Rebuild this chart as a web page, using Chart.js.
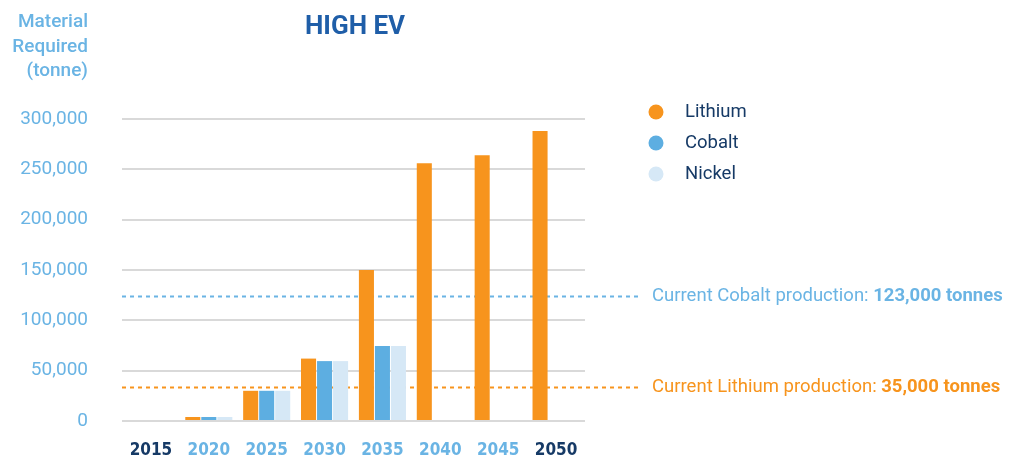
<!DOCTYPE html>
<html>
<head>
<meta charset="utf-8">
<script src="https://cdn.jsdelivr.net/npm/chart.js@4/dist/chart.umd.min.js"></script>
<style>
  html, body { margin: 0; padding: 0; background: #fff; overflow: hidden; }
  #wrap { position: relative; width: 1011px; height: 457px; }
</style>
</head>
<body>
<div id="wrap"><canvas id="myChart"></canvas></div>
<script>
// data
var years = ["2015", "2020", "2025", "2030", "2035", "2040", "2045", "2050"];
var lithium = [0, 4000, 30000, 62000, 150000, 256000, 264000, 288000];
var cobalt = [0, 4000, 30000, 59500, 74500, null, null, null];
var nickel = [0, 4000, 30000, 59500, 74500, null, null, null];
var yTicks = [0, 50000, 100000, 150000, 200000, 250000, 300000];

var titleText = "HIGH EV";
var axisTitle = ["Material", "Required", "(tonne)"];
var refLines = [
  { value: 124000, label: "Current Cobalt production: ", bold: "123,000 tonnes", color: "#6AB4E4" },
  { value: 33500, label: "Current Lithium production: ", bold: "35,000 tonnes", color: "#F7941D" }
];

var ORANGE = "#F7941D", BLUE = "#5DAEE1", LIGHT = "#D6E8F6";
var NAVY = "#163A66", SKY = "#6AB4E4";

var extras = {
  id: "extras",
  beforeDatasetsDraw: function(chart) {
    var ctx = chart.ctx, y = chart.scales.y, area = chart.chartArea;
    ctx.save();
    ctx.lineWidth = 2;
    ctx.setLineDash([4, 4]);
    refLines.forEach(function(r) {
      var py = Math.round(y.getPixelForValue(r.value)) + 0.5;
      ctx.strokeStyle = r.color;
      ctx.beginPath();
      ctx.moveTo(area.left, py);
      ctx.lineTo(640, py);
      ctx.stroke();
    });
    ctx.restore();
  },
  afterDraw: function(chart) {
    var ctx = chart.ctx, y = chart.scales.y;
    ctx.save();
    // title
    ctx.fillStyle = "#1F5EA8";
    ctx.font = "bold 26px Roboto";
    ctx.textAlign = "center";
    ctx.textBaseline = "alphabetic";
    ctx.fillText(titleText, 355, 34);
    // axis title
    ctx.fillStyle = SKY;
    ctx.font = "500 19px Roboto";
    ctx.textAlign = "right";
    axisTitle.forEach(function(t, i) {
      ctx.fillText(t, 88, 27 + i * 24.5);
    });
    // reference labels
    ctx.textAlign = "left";
    ctx.textBaseline = "middle";
    refLines.forEach(function(r) {
      var py = y.getPixelForValue(r.value);
      ctx.fillStyle = r.color;
      ctx.font = "18.5px Roboto";
      ctx.fillText(r.label, 652, py);
      var w = ctx.measureText(r.label).width;
      ctx.font = "bold 18.5px Roboto";
      ctx.fillText(r.bold, 652 + w, py);
    });
    // legend
    chart.data.datasets.forEach(function(ds, i) {
      var cy = 112 + i * 31;
      ctx.fillStyle = ds.backgroundColor;
      ctx.beginPath();
      ctx.arc(656, cy, 7.5, 0, Math.PI * 2);
      ctx.fill();
      ctx.fillStyle = NAVY;
      ctx.font = "18.5px Roboto";
      ctx.fillText(ds.label, 685, cy);
    });
    ctx.restore();
  }
};

var ctx = document.getElementById("myChart").getContext("2d");
var chart = new Chart(ctx, {
  type: "bar",
  data: {
    labels: years,
    datasets: [
      { label: "Lithium", data: lithium, backgroundColor: ORANGE },
      { label: "Cobalt", data: cobalt, backgroundColor: BLUE },
      { label: "Nickel", data: nickel, backgroundColor: LIGHT }
    ]
  },
  plugins: [extras],
  options: {
    responsive: true,
    maintainAspectRatio: false,
    animation: false,
    layout: { padding: { top: 119, right: 426, left: 0, bottom: 0 } },
    datasets: { bar: { categoryPercentage: 0.83, barPercentage: 0.94 } },
    plugins: {
      legend: { display: false },
      title: { display: false },
      tooltip: { enabled: false }
    },
    scales: {
      x: {
        grid: { display: false, drawTicks: false },
        border: { display: false },
        ticks: {
          padding: 19,
          font: { family: "'DejaVu Sans Condensed', 'DejaVu Sans'", weight: "bold", size: 17 },
          color: function(c) {
            return (c.index === 0 || c.index === years.length - 1) ? NAVY : SKY;
          }
        },
        afterFit: function(s) { s.height = 36; }
      },
      y: {
        min: 0,
        max: 300000,
        afterBuildTicks: function(s) {
          s.ticks = yTicks.map(function(v) { return { value: v }; });
        },
        grid: { color: "#D9D9D9", lineWidth: 2, drawTicks: false },
        border: { display: false },
        ticks: {
          padding: 34,
          color: SKY,
          font: { family: "Roboto", size: 19 },
          callback: function(v) { return v.toLocaleString("en-US"); }
        },
        afterFit: function(s) {
          s.width = 122;
          // tick padding is horizontal here, keep it out of the vertical overflow
          s.paddingTop = 12;
          s.paddingBottom = 12;
        }
      }
    }
  }
});
</script>
</body>
</html>
